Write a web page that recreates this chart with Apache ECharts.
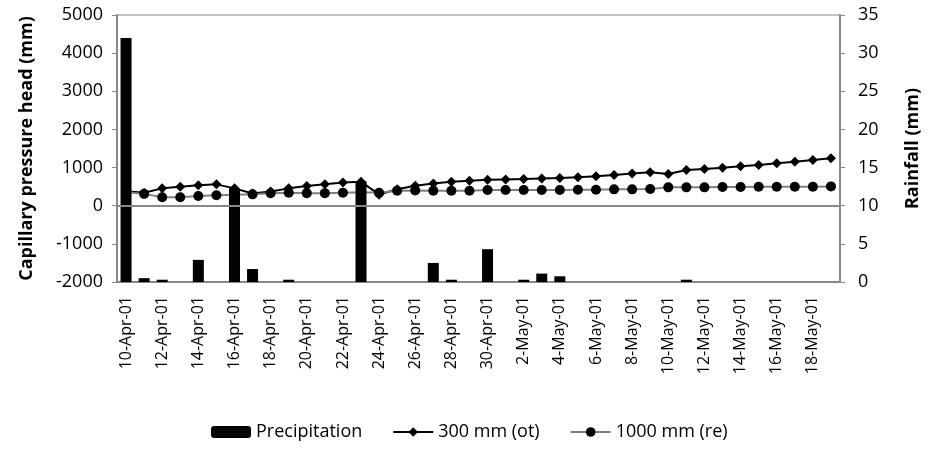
<!DOCTYPE html>
<html>
<head>
<meta charset="utf-8">
<script src="https://cdn.jsdelivr.net/npm/echarts@6/dist/echarts.min.js"></script>
<style>
  html, body { margin: 0; padding: 0; background: #fff; }
  #main { width: 930px; height: 450px; }
</style>
</head>
<body>
<div id="main"></div>
<script>
// dates (every day, labels shown every other day)
var days = [
  "10-Apr-01", "11-Apr-01", "12-Apr-01", "13-Apr-01", "14-Apr-01", "15-Apr-01", "16-Apr-01", "17-Apr-01",
  "18-Apr-01", "19-Apr-01", "20-Apr-01", "21-Apr-01", "22-Apr-01", "23-Apr-01", "24-Apr-01", "25-Apr-01",
  "26-Apr-01", "27-Apr-01", "28-Apr-01", "29-Apr-01", "30-Apr-01", "1-May-01", "2-May-01", "3-May-01",
  "4-May-01", "5-May-01", "6-May-01", "7-May-01", "8-May-01", "9-May-01", "10-May-01", "11-May-01",
  "12-May-01", "13-May-01", "14-May-01", "15-May-01", "16-May-01", "17-May-01", "18-May-01", "19-May-01"
];

// rainfall (mm), right axis
var precipitation = [
  32, 0.5, 0.3, 0, 2.9, 0, 12.3, 1.7, 0, 0.3,
  0, 0, 0, 13.2, 0, 0, 0, 2.5, 0.3, 0,
  4.3, 0, 0.3, 1.1, 0.75, 0, 0, 0, 0, 0,
  0, 0.3, 0, 0, 0, 0, 0, 0, 0, 0
];

// capillary pressure head (mm), left axis
var head300 = [
  380, 340, 455, 500, 535, 560, 455, 320, 370, 455,
  515, 560, 610, 630, 290, 430, 525, 585, 630, 656,
  680, 690, 700, 712, 725, 748, 772, 805, 845, 875,
  831, 936, 962, 997, 1032, 1067, 1111, 1154, 1198, 1242
];
var head1000 = [
  360, 310, 220, 220, 254, 272, 285, 298, 325, 341,
  330, 330, 341, 350, 340, 394, 400, 390, 390, 394,
  412, 412, 412, 412, 412, 420, 420, 429, 429, 438,
  481, 481, 481, 489, 489, 498, 498, 498, 498, 507
];

var font = "Open Sans";

var chartDom = document.getElementById("main");
var myChart = echarts.init(chartDom);
var option;

option = {
  animation: false,
  textStyle: { fontFamily: font, color: "#000" },
  grid: {
    left: 117,
    right: 83,
    top: 15,
    bottom: 168,
    show: true,
    borderColor: "#888",
    borderWidth: 1,
  },
  legend: {
    bottom: 4,
    left: 206,
    itemWidth: 40,
    itemHeight: 12,
    itemGap: 30,
    textStyle: { fontFamily: font, fontSize: 18, color: "#000" },
    data: ["Precipitation", "300 mm (ot)", "1000 mm (re)"],
  },
  xAxis: {
    type: "category",
    data: days,
    axisLine: { onZero: false, lineStyle: { color: "#888", width: 2 } },
    axisTick: { show: false },
    axisLabel: {
      interval: 1,
      rotate: 90,
      margin: 14,
      fontFamily: font,
      fontSize: 16,
      color: "#000",
    },
  },
  yAxis: [
    {
      type: "value",
      min: -2000,
      max: 5000,
      interval: 1000,
      name: "Capillary pressure head (mm)",
      nameLocation: "middle",
      nameGap: 81,
      nameTextStyle: { fontFamily: font, fontSize: 18, fontWeight: "bold", color: "#000" },
      axisLine: { show: true, lineStyle: { color: "#888", width: 2 } },
      axisTick: { show: true, length: 5, lineStyle: { color: "#888" } },
      splitLine: { show: false },
      axisLabel: {
        fontFamily: font,
        fontSize: 18,
        color: "#000",
        margin: 14,
        formatter: function (v) { return String(v); },
      },
    },
    {
      type: "value",
      min: 0,
      max: 35,
      interval: 5,
      name: "Rainfall (mm)",
      nameLocation: "middle",
      nameGap: 64,
      nameTextStyle: { fontFamily: font, fontSize: 18, fontWeight: "bold", color: "#000" },
      axisLine: { show: true, lineStyle: { color: "#888", width: 2 } },
      axisTick: { show: true, length: 5, lineStyle: { color: "#888" } },
      splitLine: { show: false },
      axisLabel: { fontFamily: font, fontSize: 18, color: "#000", margin: 18 },
    },
  ],
  series: [
    {
      name: "300 mm (ot)",
      type: "line",
      yAxisIndex: 0,
      z: 2,
      data: head300,
      symbol: "diamond",
      symbolSize: 10,
      itemStyle: { color: "#000" },
      lineStyle: { color: "#000", width: 2 },
      markLine: {
        silent: true,
        symbol: "none",
        label: { show: false },
        lineStyle: { color: "#888", type: "solid", width: 2 },
        data: [{ yAxis: 0 }],
      },
    },
    {
      name: "1000 mm (re)",
      type: "line",
      yAxisIndex: 0,
      z: 2,
      data: head1000,
      symbol: "circle",
      symbolSize: 10,
      itemStyle: { color: "#000" },
      lineStyle: { color: "#7f7f7f", width: 2 },
    },
    {
      name: "Precipitation",
      type: "bar",
      yAxisIndex: 1,
      z: 3,
      barWidth: 11,
      data: precipitation,
      itemStyle: { color: "#000" },
    },
  ],
};

option && myChart.setOption(option);
</script>
</body>
</html>
